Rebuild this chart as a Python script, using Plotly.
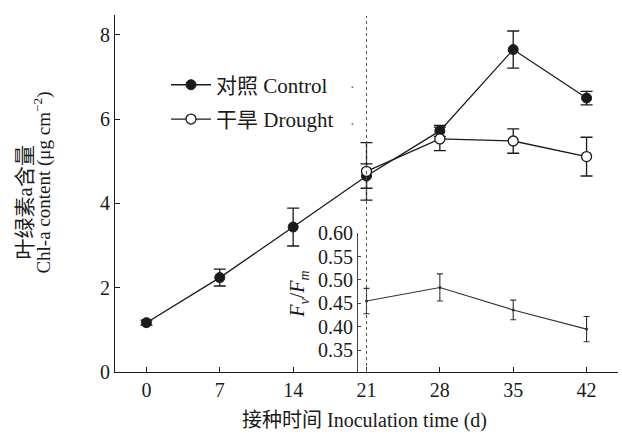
import plotly.graph_objects as go

days = [0, 7, 14, 21, 28, 35, 42]
control = [1.17, 2.24, 3.44, 4.65, 5.72, 7.65, 6.50]
control_err = [0.06, 0.20, 0.45, 0.29, 0.13, 0.44, 0.16]

drought_days = [21, 28, 35, 42]
drought = [4.76, 5.53, 5.48, 5.11]
drought_err = [0.68, 0.28, 0.29, 0.46]

fvfm_days = [21, 28, 35, 42]
fvfm = [0.455, 0.484, 0.436, 0.395]
fvfm_err = [0.027, 0.029, 0.021, 0.027]

x_ticks = [0, 7, 14, 21, 28, 35, 42]
y_ticks = [0, 2, 4, 6, 8]
y2_ticks = [0.35, 0.40, 0.45, 0.50, 0.55, 0.60]

FONT = "Liberation Serif, Noto Sans CJK SC, serif"
BLACK = "#1a1a1a"

fig = go.Figure()

fig.add_trace(go.Scatter(
    x=days, y=control, mode="lines+markers", name="对照 Control",
    legendgroup="c",
    line=dict(color=BLACK, width=1.3),
    marker=dict(symbol="circle", size=10, color=BLACK, line=dict(color=BLACK, width=1)),
    error_y=dict(type="data", array=control_err, visible=True, color=BLACK, thickness=1.3, width=6),
))
fig.add_trace(go.Scatter(
    x=drought_days, y=drought, mode="lines+markers", name="干旱 Drought",
    legendgroup="d",
    line=dict(color=BLACK, width=1.3),
    marker=dict(symbol="circle", size=10, color="white", line=dict(color=BLACK, width=1.3)),
    error_y=dict(type="data", array=drought_err, visible=True, color=BLACK, thickness=1.3, width=6),
))
fig.add_trace(go.Scatter(
    x=fvfm_days, y=fvfm, mode="lines+markers", showlegend=False,
    xaxis="x", yaxis="y2",
    line=dict(color="#333333", width=1.1),
    marker=dict(symbol="circle", size=3, color="#333333"),
    error_y=dict(type="data", array=fvfm_err, visible=True, color="#333333", thickness=1.1, width=3),
))

W, H = 622, 435
L, R, T, B = 115, 4, 12, 63
pw = W - L - R
ph = H - T - B

def py(p):
    return (H - B - p) / ph

def px(p):
    return (p - L) / pw

fig.add_shape(type="line", xref="x", yref="paper", x0=21, x1=21, y0=0, y1=py(13),
              line=dict(color="#555555", width=1, dash="dot"))

fig.update_layout(
    width=W, height=H,
    margin=dict(l=L, r=R, t=T, b=B),
    paper_bgcolor="white", plot_bgcolor="rgba(0,0,0,0)",
    font=dict(family=FONT, size=20, color=BLACK),
    xaxis=dict(
        range=[-3, 45], tickvals=x_ticks, ticktext=[str(v) for v in x_ticks],
        showline=True, linecolor=BLACK, linewidth=1.2, mirror=False,
        ticks="inside", ticklen=5, tickcolor=BLACK, showgrid=False, zeroline=False,
        tickfont=dict(size=20),
        domain=[0, 1],
    ),
    yaxis=dict(
        range=[0, 8.47], tickvals=y_ticks,
        showline=True, linecolor=BLACK, linewidth=1.2,
        ticks="inside", ticklen=5, tickcolor=BLACK, showgrid=False, zeroline=False,
        tickfont=dict(size=20), domain=[0, 1],
    ),
    yaxis2=dict(
        range=[0.60 - 140 / 472, 0.60], domain=[0, py(232)],
        tickvals=y2_ticks, ticktext=[f"{v:.2f}" for v in y2_ticks],
        anchor="free", position=px(357),
        showline=True, linecolor="#444444", linewidth=1,
        ticks="inside", ticklen=3, tickcolor="#444444", showgrid=False, zeroline=False,
        tickfont=dict(size=20),
    ),
    legend=dict(
        x=px(166), y=py(62), xanchor="left", yanchor="top",
        bgcolor="rgba(0,0,0,0)", font=dict(size=21),
        tracegroupgap=4, itemwidth=40,
    ),
    showlegend=True,
)

annotations = [
    dict(text="接种时间 Inoculation time (d)", xref="paper", yref="paper",
         x=px(364), y=py(421), xanchor="center", yanchor="middle", showarrow=False,
         font=dict(size=20)),
    dict(text="叶绿素a含量", xref="paper", yref="paper",
         x=px(25), y=py(201), xanchor="center", yanchor="middle", showarrow=False,
         textangle=-90, font=dict(size=21)),
    dict(text="Chl-a content (μg cm<sup>−2</sup>)", xref="paper", yref="paper",
         x=px(43), y=py(181), xanchor="center", yanchor="middle", showarrow=False,
         textangle=-90, font=dict(size=19)),
    dict(text="<i>F</i><sub><i>v</i></sub>/<i>F</i><sub><i>m</i></sub>", xref="paper", yref="paper",
         x=px(299), y=py(294), xanchor="center", yanchor="middle", showarrow=False,
         textangle=-90, font=dict(size=20)),
    dict(text="·", xref="paper", yref="paper", x=px(352), y=py(76), showarrow=False,
         font=dict(size=14, color="#666666")),
    dict(text="·", xref="paper", yref="paper", x=px(352), y=py(113), showarrow=False,
         font=dict(size=14, color="#666666")),
]
fig.update_layout(annotations=annotations)

fig.write_html("out.html")
